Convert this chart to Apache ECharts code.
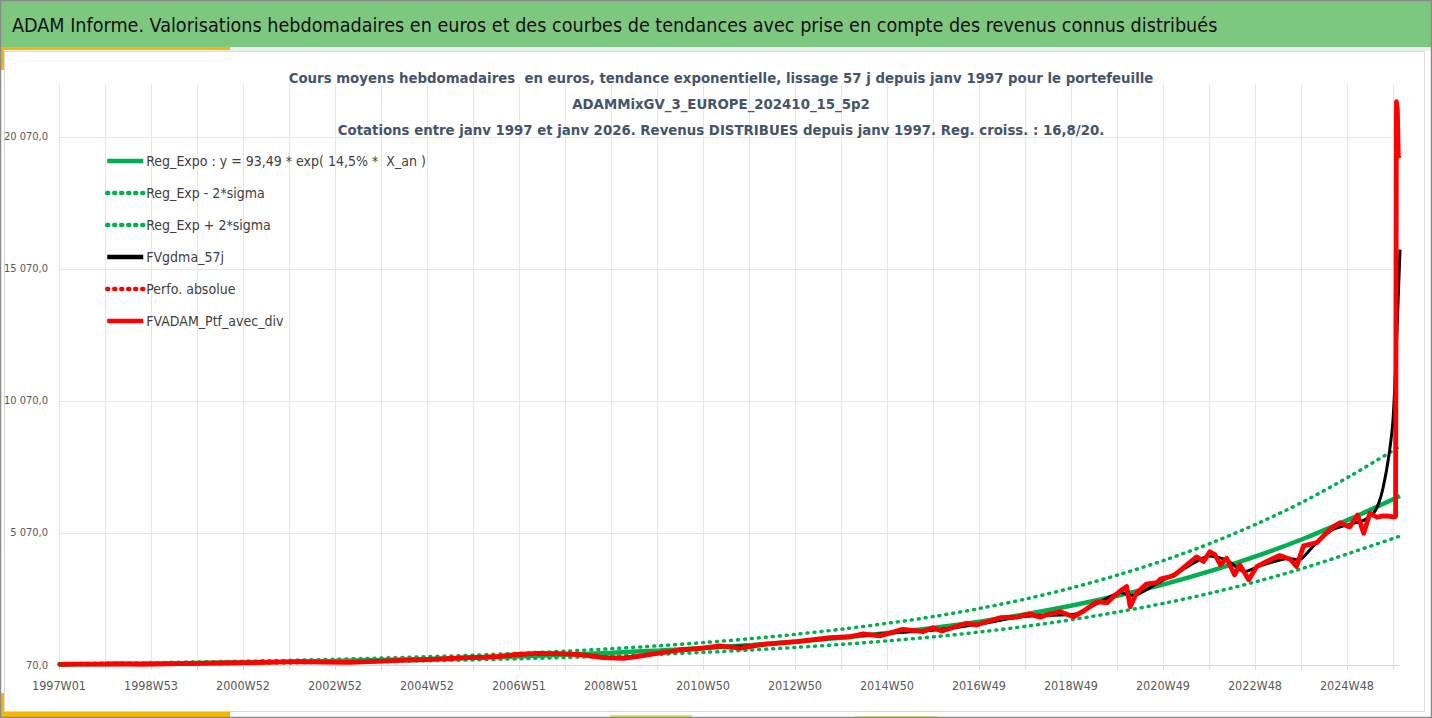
<!DOCTYPE html>
<html><head><meta charset="utf-8">
<script src="https://cdn.jsdelivr.net/npm/echarts@6/dist/echarts.min.js"></script>
<style>html,body{margin:0;padding:0;background:#fff}#chart{width:1432px;height:718px}</style>
</head><body><div id="chart"></div>
<script>
// ---------- DATA ----------
const bannerTitle = 'ADAM Informe. Valorisations hebdomadaires en euros et des courbes de tendances avec prise en compte des revenus connus distribués';
const chartTitleLines = [
  'Cours moyens hebdomadaires  en euros, tendance exponentielle, lissage 57 j depuis janv 1997 pour le portefeuille',
  'ADAMMixGV_3_EUROPE_202410_15_5p2',
  'Cotations entre janv 1997 et janv 2026. Revenus DISTRIBUES depuis janv 1997. Reg. croiss. : 16,8/20.'
];
const seriesNames = ['Reg_Expo : y = 93,49 * exp( 14,5% *  X_an )', 'Reg_Exp - 2*sigma', 'Reg_Exp + 2*sigma', 'FVgdma_57j', 'Perfo. absolue', 'FVADAM_Ptf_avec_div'];

// weekly categories (ISO weeks) 1997W01 .. 2026W04
const firstYear = 1997, lastYear = 2026, lastWeek = 4;
const years53 = [1998, 2004, 2009, 2015, 2020, 2026];

// points: [week index counted from 1997W01, value in euros]
const trendPoints = [[0,93],[52,108],[105,125],[157,144],[209,167],[261,193],[313,223],[365,258],[418,299],[470,346],[522,400],[574,463],[626,536],[679,621],[731,718],[783,831],[835,962],[887,1113],[939,1288],[992,1491],[1044,1730],[1096,2010],[1148,2340],[1200,2720],[1253,3160],[1305,3660],[1357,4230],[1409,4880],[1461,5620],[1516,6470]];
const lowerPoints = [[0,72],[52,83],[105,96],[157,111],[209,129],[261,149],[313,172],[365,199],[418,230],[470,266],[522,308],[574,357],[626,413],[679,478],[731,553],[783,640],[835,741],[887,857],[939,992],[992,1148],[1044,1332],[1096,1548],[1148,1802],[1200,2094],[1253,2433],[1305,2818],[1357,3257],[1409,3758],[1461,4327],[1516,4950]];
const upperPoints = [[0,120],[52,139],[105,161],[157,186],[209,215],[261,249],[313,288],[365,333],[418,386],[470,446],[522,516],[574,597],[626,691],[679,801],[731,926],[783,1072],[835,1241],[887,1436],[939,1662],[992,1923],[1044,2232],[1096,2593],[1148,3019],[1200,3509],[1253,4076],[1305,4721],[1357,5457],[1409,6295],[1461,7250],[1516,8350]];
const gdmaPoints = [[0,95],[52,104],[105,100],[157,128],[209,152],[261,182],[313,180],[365,215],[418,282],[470,355],[500,400],[540,490],[574,490],[600,430],[626,345],[660,420],[702,620],[747,760],[783,800],[835,950],[887,1130],[939,1270],[992,1400],[1044,1640],[1080,1860],[1110,1950],[1148,1990],[1175,2420],[1200,2820],[1215,2700],[1241,3150],[1271,3700],[1300,4200],[1320,4050],[1340,3600],[1360,3850],[1390,4100],[1402,4050],[1420,4650],[1440,5200],[1460,5400],[1475,5550],[1486,5820],[1492,6200],[1497,6800],[1503,7900],[1508,9300],[1511,11300],[1514,14000],[1516,15800]];
const ptfPoints = [[0,95],[20,100],[40,104],[65,112],[80,100],[92,94],[110,104],[135,120],[159,134],[185,146],[216,157],[245,180],[272,196],[300,182],[329,172],[350,195],[366,220],[395,255],[423,286],[445,320],[468,362],[476,355],[498,395],[515,460],[540,513],[565,500],[589,460],[615,350],[638,325],[655,400],[672,487],[702,638],[725,700],[747,790],[770,705],[796,855],[834,955],[872,1105],[894,1140],[909,1245],[928,1175],[954,1420],[977,1335],[988,1480],[998,1360],[1026,1650],[1037,1585],[1064,1860],[1083,1880],[1097,2005],[1109,1880],[1116,1965],[1132,2090],[1147,1900],[1160,2150],[1173,2460],[1185,2430],[1192,2660],[1199,2850],[1207,3040],[1211,2280],[1218,2790],[1229,3130],[1241,3190],[1245,3320],[1260,3450],[1271,3750],[1286,4165],[1294,3990],[1301,4360],[1307,4240],[1313,3860],[1320,4110],[1329,3480],[1335,3860],[1345,3300],[1354,3795],[1365,3985],[1380,4220],[1392,4075],[1399,3800],[1407,4580],[1422,4705],[1437,5210],[1448,5460],[1459,5290],[1468,5750],[1475,5060],[1482,5815],[1490,5665],[1497,5720],[1503,5710],[1508,5680],[1511,5690],[1512,21400],[1513,21100],[1514,19400],[1515,19350],[1516,19380]];
const perfoPoints = ptfPoints;

// y-axis ticks: 70, 5 070, ... 20 070
const yMin = 70, yStep = 5000, yTop = 22070, yLastLabel = 20070;

// ---------- BUILD ----------
const categories = [];
for (let y = firstYear; y <= lastYear; y++) {
  const n = (y === lastYear) ? lastWeek : (years53.includes(y) ? 53 : 52);
  for (let w = 1; w <= n; w++) categories.push(y + 'W' + (w < 10 ? '0' + w : w));
}

const FONT = "'DejaVu Sans Condensed','Liberation Sans Narrow','Liberation Sans',sans-serif";
function frNum(v) {
  const n = Math.round(v);
  return String(n).replace(/\B(?=(\d{3})+(?!\d))/g, ' ') + ',0';
}
const GREEN = '#00B050', RED = '#FF0000', GRIDC = '#E3E7EC';
const dotted = { type: [1, 6], cap: 'round' };

const chart = echarts.init(document.getElementById('chart'), null, { renderer: 'svg' });
chart.setOption({
  animation: false,
  backgroundColor: '#ffffff',
  graphic: [
    { type: 'rect', z: -10, shape: { x: 0, y: 0, width: 1432, height: 47 }, style: { fill: '#7EC77E' } },
    { type: 'rect', z: -10, shape: { x: 0, y: 47, width: 1432, height: 4 }, style: { fill: '#EAF2EC' } },
    { type: 'rect', z: -9, shape: { x: 4.5, y: 51.5, width: 1420, height: 660 }, style: { fill: 'none', stroke: '#D9D9D9', lineWidth: 1 } },
    { type: 'rect', z: -8, shape: { x: 0, y: 47, width: 230, height: 3 }, style: { fill: '#F5B800' } },
    { type: 'rect', z: -8, shape: { x: 0, y: 47, width: 4, height: 23 }, style: { fill: '#F5B800' } },
    { type: 'rect', z: -8, shape: { x: 0, y: 712, width: 230, height: 6 }, style: { fill: '#F5B800' } },
    { type: 'rect', z: -8, shape: { x: 0, y: 693, width: 4, height: 25 }, style: { fill: '#F5B800' } },
    { type: 'rect', z: -8, shape: { x: 610, y: 715, width: 82, height: 3 }, style: { fill: '#F2E24A' } },
    { type: 'rect', z: -8, shape: { x: 855, y: 716, width: 82, height: 2 }, style: { fill: '#E4DE7A' } },
    { type: 'rect', z: 50, shape: { x: 0.5, y: 0.5, width: 1431, height: 717 }, style: { fill: 'none', stroke: '#8A8A8A', lineWidth: 1.5 } },
    { type: 'text', z: 60, x: 12, y: 25, style: { text: bannerTitle, fill: '#111111', font: "500 19.6px " + FONT, textVerticalAlign: 'middle', textAlign: 'left' } },
    { type: 'text', z: 60, x: 721, y: 64, style: { text: chartTitleLines.join('\n'), fill: '#44546A', font: "bold 14.8px " + FONT, textAlign: 'center', textVerticalAlign: 'top', lineHeight: 26 } }
  ],
  legend: {
    orient: 'vertical', left: 105, top: 154, padding: 0,
    itemWidth: 36, itemHeight: 14, itemGap: 18,
    data: seriesNames,
    itemStyle: { opacity: 0 },
    lineStyle: { width: 4.5 },
    textStyle: { fontSize: 14, color: '#404040', fontFamily: FONT, padding: [0, 0, 0, -2] },
    selectedMode: false
  },
  grid: { left: 59, right: 32, top: 84, bottom: 53, containLabel: false },
  xAxis: {
    type: 'category', data: categories, boundaryGap: false,
    axisLine: { lineStyle: { color: '#D9D9D9', width: 1 } },
    axisTick: { show: true, interval: 51, length: 5, lineStyle: { color: '#D9D9D9' } },
    axisLabel: { interval: 103, fontSize: 12.5, color: '#595959', fontFamily: FONT, margin: 14 },
    splitLine: { show: true, interval: 51, lineStyle: { color: GRIDC, width: 1 } }
  },
  yAxis: {
    type: 'value', min: yMin, max: yTop, interval: yStep,
    axisLine: { show: false }, axisTick: { show: false },
    axisLabel: { fontSize: 11, color: '#595959', fontFamily: FONT, margin: 11, showMaxLabel: false,
      formatter: v => (v > yLastLabel + 1 ? '' : frNum(v)) },
    splitLine: { show: true, showMaxLine: false, lineStyle: { color: GRIDC, width: 1 } }
  },
  series: [
    { name: seriesNames[2], type: 'line', data: upperPoints, symbol: 'none', smooth: 0.3, z: 2,
      lineStyle: Object.assign({ color: GREEN, width: 3.5 }, dotted), itemStyle: { color: GREEN } },
    { name: seriesNames[1], type: 'line', data: lowerPoints, symbol: 'none', smooth: 0.3, z: 2,
      lineStyle: Object.assign({ color: GREEN, width: 3.5 }, dotted), itemStyle: { color: GREEN } },
    { name: seriesNames[0], type: 'line', data: trendPoints, symbol: 'none', smooth: 0.3, z: 3,
      lineStyle: { color: GREEN, width: 4.5 }, itemStyle: { color: GREEN } },
    { name: seriesNames[3], type: 'line', data: gdmaPoints, symbol: 'none', smooth: 0.2, z: 4,
      lineStyle: { color: '#000000', width: 3 }, itemStyle: { color: '#000000' } },
    { name: seriesNames[4], type: 'line', data: perfoPoints, symbol: 'none', z: 5,
      lineStyle: Object.assign({ color: RED, width: 3 }, dotted), itemStyle: { color: RED } },
    { name: seriesNames[5], type: 'line', data: ptfPoints, symbol: 'none', z: 6,
      lineStyle: { color: RED, width: 4.8, join: 'round' }, itemStyle: { color: RED } }
  ]
});
</script></body></html>
